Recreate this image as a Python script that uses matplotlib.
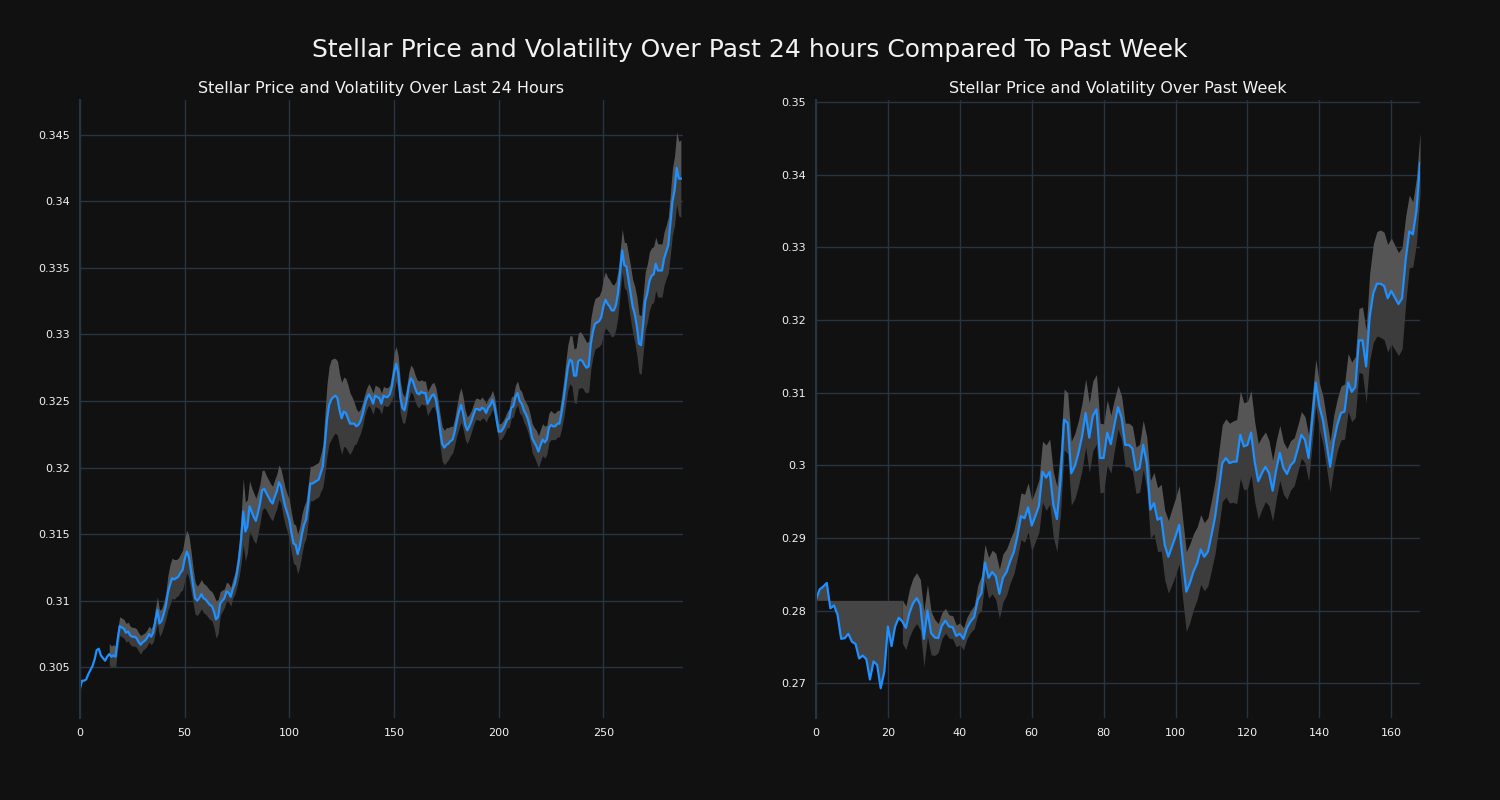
import numpy as np
import matplotlib
matplotlib.use("Agg")
import matplotlib.pyplot as plt
import matplotlib.ticker as ticker

# Stellar price, last 24 hours (5 min steps)
day_price = [
    0.3034, 0.3040, 0.3040, 0.3041, 0.3045, 0.3048, 0.3051, 0.3056, 0.3063, 0.3064,
    0.3059, 0.3057, 0.3055, 0.3058, 0.3060, 0.3058, 0.3059, 0.3058, 0.3071, 0.3081,
    0.3080, 0.3079, 0.3076, 0.3077, 0.3074, 0.3073, 0.3073, 0.3072, 0.3069, 0.3067,
    0.3069, 0.3070, 0.3072, 0.3075, 0.3073, 0.3076, 0.3085, 0.3093, 0.3083, 0.3085,
    0.3090, 0.3096, 0.3106, 0.3112, 0.3117, 0.3116, 0.3117, 0.3118, 0.3121, 0.3123,
    0.3131, 0.3137, 0.3133, 0.3123, 0.3112, 0.3102, 0.3100, 0.3102, 0.3105, 0.3102,
    0.3101, 0.3099, 0.3097, 0.3096, 0.3092, 0.3086, 0.3088, 0.3098, 0.3100, 0.3102,
    0.3107, 0.3106, 0.3103, 0.3109, 0.3113, 0.3121, 0.3131, 0.3146, 0.3167, 0.3152,
    0.3156, 0.3171, 0.3167, 0.3163, 0.3160, 0.3166, 0.3173, 0.3183, 0.3184, 0.3181,
    0.3178, 0.3175, 0.3173, 0.3178, 0.3182, 0.3189, 0.3186, 0.3178, 0.3171, 0.3166,
    0.3161, 0.3151, 0.3143, 0.3142, 0.3135, 0.3141, 0.3150, 0.3157, 0.3161, 0.3173,
    0.3188, 0.3188, 0.3189, 0.3190, 0.3191, 0.3196, 0.3201, 0.3218, 0.3236, 0.3247,
    0.3251, 0.3253, 0.3254, 0.3252, 0.3243, 0.3237, 0.3242, 0.3241, 0.3237, 0.3233,
    0.3233, 0.3233, 0.3231, 0.3232, 0.3235, 0.3240, 0.3247, 0.3252, 0.3255, 0.3252,
    0.3248, 0.3254, 0.3253, 0.3252, 0.3248, 0.3254, 0.3253, 0.3253, 0.3255, 0.3261,
    0.3271, 0.3278, 0.3271, 0.3253, 0.3245, 0.3243, 0.3250, 0.3261, 0.3267, 0.3265,
    0.3260, 0.3256, 0.3255, 0.3257, 0.3256, 0.3256, 0.3248, 0.3251, 0.3254, 0.3255,
    0.3251, 0.3241, 0.3228, 0.3218, 0.3215, 0.3217, 0.3218, 0.3220, 0.3221, 0.3227,
    0.3235, 0.3242, 0.3247, 0.3241, 0.3232, 0.3228, 0.3231, 0.3235, 0.3240, 0.3244,
    0.3244, 0.3243, 0.3245, 0.3244, 0.3241, 0.3245, 0.3247, 0.3251, 0.3246, 0.3236,
    0.3227, 0.3227, 0.3229, 0.3232, 0.3236, 0.3237, 0.3245, 0.3246, 0.3253, 0.3256,
    0.3250, 0.3248, 0.3243, 0.3240, 0.3236, 0.3230, 0.3222, 0.3219, 0.3216, 0.3212,
    0.3217, 0.3221, 0.3219, 0.3221, 0.3230, 0.3232, 0.3231, 0.3231, 0.3233, 0.3233,
    0.3241, 0.3251, 0.3263, 0.3275, 0.3281, 0.3280, 0.3269, 0.3269, 0.3280, 0.3281,
    0.3280, 0.3277, 0.3275, 0.3276, 0.3293, 0.3302, 0.3308, 0.3309, 0.3310, 0.3313,
    0.3321, 0.3326, 0.3323, 0.3321, 0.3318, 0.3318, 0.3322, 0.3331, 0.3347, 0.3363,
    0.3352, 0.3351, 0.3341, 0.3331, 0.3321, 0.3315, 0.3306, 0.3293, 0.3292, 0.3308,
    0.3325, 0.3331, 0.3340, 0.3344, 0.3345, 0.3353, 0.3348, 0.3348, 0.3348, 0.3357,
    0.3362, 0.3367, 0.3383, 0.3400, 0.3408, 0.3425, 0.3417, 0.3417,
]

# half width of the volatility band, last 24 hours (nan = no band)
nan = float("nan")
day_vol = (
    [nan] * 14
    + [0.0008, 0.0008, 0.0008, 0.0008]
    + [0.0008, 0.0007, 0.0007, 0.0007, 0.0007, 0.0007, 0.0007, 0.0007, 0.0007,
       0.0007, 0.0007, 0.0007, 0.0006, 0.0006, 0.0006, 0.0006, 0.0006, 0.0007]
    + [0.0009, 0.0010, 0.0010, 0.0009, 0.0009, 0.0010]
    + [0.0013, 0.0015, 0.0015, 0.0015, 0.0014, 0.0014, 0.0014, 0.0015, 0.0016, 0.0016, 0.0016]
    + [0.0015, 0.0013, 0.0012, 0.0011, 0.0011, 0.0011, 0.0011, 0.0011, 0.0011, 0.0011,
       0.0011, 0.0012, 0.0014, 0.0013]
    + [0.0009, 0.0008, 0.0007, 0.0007, 0.0007, 0.0007, 0.0007, 0.0008, 0.0010]
    + [0.0013, 0.0018, 0.0025, 0.0022, 0.0020, 0.0019, 0.0018, 0.0018, 0.0017, 0.0016]
    + [0.0015, 0.0015, 0.0014, 0.0013, 0.0013, 0.0013, 0.0013, 0.0013, 0.0013, 0.0013,
       0.0013, 0.0014, 0.0014, 0.0014]
    + [0.0015, 0.0015, 0.0015, 0.0015, 0.0015, 0.0015, 0.0015, 0.0014, 0.0014]
    + [0.0014, 0.0013, 0.0013, 0.0013, 0.0013, 0.0013, 0.0014, 0.0016]
    + [0.0022, 0.0027, 0.0029, 0.0030, 0.0029, 0.0028, 0.0028, 0.0027, 0.0027, 0.0026,
       0.0026, 0.0025, 0.0023, 0.0020]
    + [0.0016, 0.0013, 0.0010, 0.0009, 0.0009, 0.0008, 0.0008, 0.0008, 0.0008, 0.0008,
       0.0008, 0.0008, 0.0008, 0.0008, 0.0007, 0.0007, 0.0007, 0.0007]
    + [0.0010, 0.0015, 0.0013, 0.0013, 0.0012]
    + [0.0011, 0.0010, 0.0010, 0.0010, 0.0010, 0.0010, 0.0010, 0.0010, 0.0010, 0.0009,
       0.0009, 0.0009, 0.0009, 0.0009, 0.0009, 0.0009, 0.0009]
    + [0.0010, 0.0012, 0.0013, 0.0013, 0.0013, 0.0012, 0.0011, 0.0010]
    + [0.0010, 0.0011, 0.0013, 0.0013, 0.0012, 0.0011, 0.0010, 0.0009, 0.0008, 0.0008,
       0.0008, 0.0008, 0.0008, 0.0008, 0.0007, 0.0007, 0.0007, 0.0007, 0.0007, 0.0007]
    + [0.0007, 0.0006, 0.0006, 0.0006, 0.0006, 0.0006, 0.0007]
    + [0.0008, 0.0008, 0.0009, 0.0009, 0.0009, 0.0009, 0.0009, 0.0009, 0.0010, 0.0010]
    + [0.0011, 0.0011, 0.0012, 0.0012, 0.0012, 0.0012, 0.0012, 0.0011, 0.0011, 0.0011,
       0.0010, 0.0010, 0.0010, 0.0010, 0.0012]
    + [0.0014, 0.0016, 0.0017, 0.0018, 0.0019, 0.0020, 0.0021, 0.0021, 0.0021, 0.0020,
       0.0020, 0.0019, 0.0019]
    + [0.0019, 0.0019, 0.0019, 0.0019, 0.0019, 0.0020, 0.0021, 0.0021, 0.0020, 0.0020,
       0.0020, 0.0019, 0.0018]
    + [0.0017, 0.0016, 0.0016, 0.0017, 0.0018, 0.0019, 0.0020, 0.0020, 0.0021, 0.0022,
       0.0022, 0.0022]
    + [0.0022, 0.0022, 0.0022, 0.0022, 0.0021, 0.0021, 0.0020, 0.0020, 0.0020, 0.0020,
       0.0020, 0.0020, 0.0021]
    + [0.0023, 0.0025, 0.0026, 0.0027, 0.0028, 0.0029]
)

# Stellar price, past week (hourly)
week_price = [
    0.2815, 0.2829, 0.2833, 0.2838, 0.2803, 0.2807, 0.2794, 0.2761, 0.2762, 0.2768,
    0.2757, 0.2754, 0.2734, 0.2738, 0.2733, 0.2705, 0.2730, 0.2725, 0.2693, 0.2716,
    0.2778, 0.2751, 0.2778, 0.2790, 0.2785, 0.2776, 0.2797, 0.2810, 0.2817, 0.2808,
    0.2761, 0.2800, 0.2769, 0.2763, 0.2762, 0.2779, 0.2786, 0.2778, 0.2777, 0.2765,
    0.2768, 0.2761, 0.2776, 0.2785, 0.2791, 0.2815, 0.2824, 0.2866, 0.2845, 0.2853,
    0.2847, 0.2823, 0.2845, 0.2853, 0.2868, 0.2880, 0.2902, 0.2930, 0.2927, 0.2942,
    0.2917, 0.2930, 0.2944, 0.2991, 0.2983, 0.2991, 0.2946, 0.2926, 0.2978, 0.3063,
    0.3058, 0.2989, 0.2999, 0.3017, 0.3040, 0.3072, 0.3038, 0.3068, 0.3077, 0.3010,
    0.3010, 0.3045, 0.3029, 0.3056, 0.3080, 0.3065, 0.3028, 0.3028, 0.3023, 0.2993,
    0.2996, 0.3028, 0.3003, 0.2939, 0.2948, 0.2925, 0.2928, 0.2890, 0.2874, 0.2888,
    0.2902, 0.2918, 0.2870, 0.2826, 0.2838, 0.2854, 0.2865, 0.2884, 0.2874, 0.2881,
    0.2904, 0.2929, 0.2966, 0.3003, 0.3010, 0.3003, 0.3005, 0.3005, 0.3042, 0.3026,
    0.3028, 0.3045, 0.3005, 0.2978, 0.2989, 0.2998, 0.2989, 0.2965, 0.2994, 0.3017,
    0.2996, 0.2988, 0.3000, 0.3005, 0.3023, 0.3042, 0.3035, 0.3010, 0.3062, 0.3114,
    0.3081, 0.3062, 0.3030, 0.2998, 0.3033, 0.3056, 0.3072, 0.3074, 0.3114, 0.3101,
    0.3108, 0.3172, 0.3172, 0.3136, 0.3205, 0.3237, 0.3250, 0.3250, 0.3247, 0.3230,
    0.3240, 0.3231, 0.3222, 0.3230, 0.3283, 0.3322, 0.3318, 0.3351, 0.3416,
]

# band level used before the weekly window fills up
week_band_start = 0.2814
week_vol = (
    [nan] * 24
    + [0.0030, 0.0030]
    + [0.0033, 0.0035, 0.0035, 0.0035]
    + [0.0038, 0.0036, 0.0030, 0.0025]
    + [0.0020, 0.0018, 0.0017, 0.0016, 0.0016, 0.0015, 0.0015, 0.0015, 0.0015, 0.0015, 0.0016]
    + [0.0020, 0.0024, 0.0025, 0.0028, 0.0030, 0.0032, 0.0034, 0.0033, 0.0032, 0.0030, 0.0030]
    + [0.0030, 0.0032, 0.0033, 0.0034, 0.0035, 0.0035, 0.0036]
    + [0.0042, 0.0045, 0.0045, 0.0045, 0.0045, 0.0045]
    + [0.0042, 0.0042, 0.0044, 0.0045]
    + [0.0045, 0.0046, 0.0047, 0.0048, 0.0048, 0.0048, 0.0048, 0.0047, 0.0045]
    + [0.0040, 0.0035, 0.0030, 0.0030, 0.0030, 0.0030, 0.0031, 0.0032, 0.0033, 0.0034, 0.0036]
    + [0.0040, 0.0042, 0.0044, 0.0046, 0.0048, 0.0050, 0.0052, 0.0053, 0.0054]
    + [0.0055, 0.0055, 0.0054, 0.0052, 0.0050, 0.0048, 0.0047, 0.0047, 0.0048]
    + [0.0050, 0.0052, 0.0053, 0.0054, 0.0055, 0.0056]
    + [0.0058, 0.0060, 0.0060, 0.0060, 0.0058, 0.0055]
    + [0.0052, 0.0050, 0.0048, 0.0045, 0.0042]
    + [0.0040, 0.0038, 0.0036, 0.0035, 0.0034, 0.0033, 0.0032, 0.0032, 0.0032, 0.0032]
    + [0.0032, 0.0032, 0.0032, 0.0033, 0.0034, 0.0035]
    + [0.0036, 0.0036, 0.0037, 0.0038, 0.0040, 0.0041, 0.0042, 0.0044, 0.0046, 0.0050]
    + [0.0060, 0.0068, 0.0072, 0.0074, 0.0074, 0.0074, 0.0073, 0.0072, 0.0071, 0.0070]
    + [0.0060, 0.0050, 0.0045, 0.0045, 0.0042]
)

BG = "#111111"
GRID = "#283442"
LINE = "#1E90FF"
TXT = "#f2f2f2"

fig = plt.figure(figsize=(15, 8), dpi=100, facecolor=BG)
ax1 = fig.add_axes([0.0533, 0.1025, 0.402, 0.7725])
ax2 = fig.add_axes([0.544, 0.1025, 0.4027, 0.7725])


def draw(ax, price, vol, title, start_level=None):
    price = np.array(price)
    vol = np.array(vol)
    x = np.arange(len(price))
    upper = price + vol
    lower = price - vol
    ok = ~np.isnan(vol)
    ax.fill_between(x, price, upper, where=ok, color="#555555", lw=0)
    ax.fill_between(x, lower, price, where=ok, color="#3c3c3c", lw=0)
    if start_level is not None:
        pre = ~ok
        pre[np.argmax(ok)] = True
        ax.fill_between(x, start_level, price, where=pre, color="#454545", lw=0)
    ax.plot(x, price, color=LINE, lw=1.6)
    ax.set_facecolor(BG)
    ax.grid(True, color=GRID, lw=1)
    ax.set_axisbelow(True)
    for s in ["top", "right", "bottom"]:
        ax.spines[s].set_visible(False)
    ax.spines["left"].set_color(GRID)
    ax.spines["left"].set_linewidth(1.5)
    ax.tick_params(length=0, colors=TXT, labelsize=8, pad=7)
    ax.yaxis.set_major_formatter(ticker.FuncFormatter(lambda v, _: f"{v:g}"))
    ax.set_title(title, color=TXT, fontsize=11.5, pad=5)


draw(ax1, day_price, day_vol, "Stellar Price and Volatility Over Last 24 Hours")
ax1.set_xlim(0, 288)
ax1.set_ylim(0.3012, 0.3476)
ax1.xaxis.set_major_locator(ticker.MultipleLocator(50))
ax1.yaxis.set_major_locator(ticker.MultipleLocator(0.005))

draw(ax2, week_price, week_vol, "Stellar Price and Volatility Over Past Week",
     start_level=week_band_start)
ax2.set_xlim(0, len(week_price) - 1)
ax2.set_ylim(0.2652, 0.3503)
ax2.xaxis.set_major_locator(ticker.MultipleLocator(20))
ax2.yaxis.set_major_locator(ticker.MultipleLocator(0.01))

fig.suptitle("Stellar Price and Volatility Over Past 24 hours Compared To Past Week",
             color=TXT, fontsize=18, y=0.953)

fig.savefig("out.png", facecolor=BG)
